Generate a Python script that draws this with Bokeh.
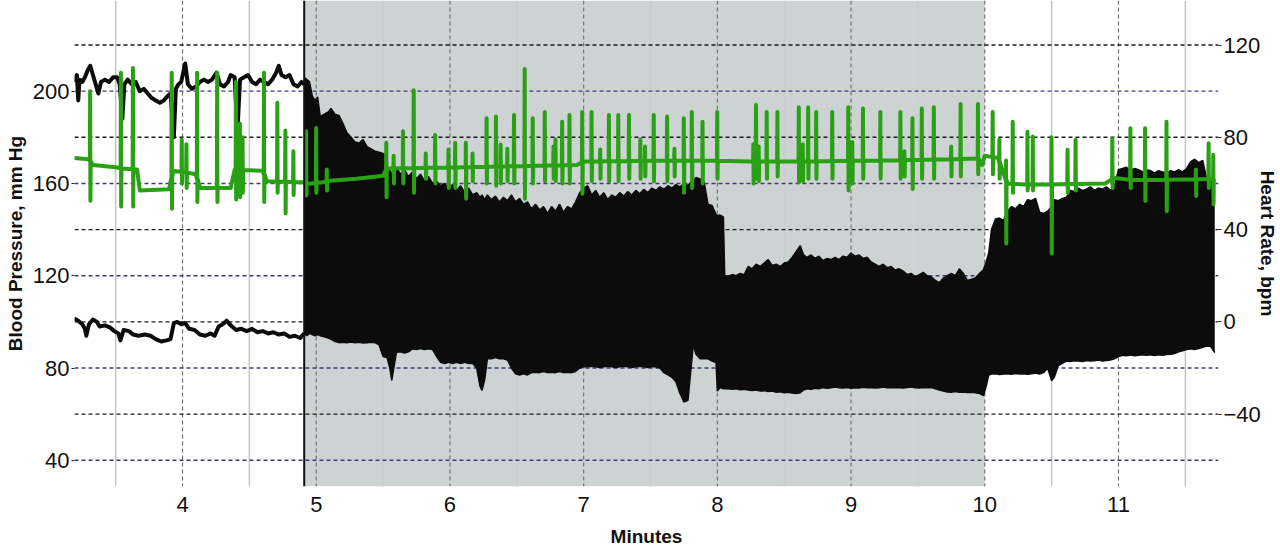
import numpy as np
from bokeh.plotting import figure
from bokeh.models import Range1d, LinearAxis, FixedTicker, Span, BoxAnnotation
from bokeh.embed import file_html
from bokeh.resources import INLINE

# ---------------- data ----------------
minute_ticks = [4, 5, 6, 7, 8, 9, 10, 11]
half_minute_lines = [3.5, 4.5, 5.5, 6.5, 7.5, 8.5, 9.5, 10.5, 11.5]
bp_ticks = [40, 80, 120, 160, 200]
hr_ticks = [-40, 0, 40, 80, 120]
shade_start = 4.91
shade_end = 10.0

# systolic / diastolic traces before the shaded period (mm Hg)
sys_t = [3.19, 3.21, 3.22, 3.23, 3.25, 3.27, 3.29, 3.31, 3.33, 3.35, 3.37, 3.39, 3.42, 3.45,
         3.48, 3.51, 3.53, 3.55, 3.565, 3.59, 3.62, 3.65, 3.68, 3.71, 3.74, 3.77, 3.80, 3.83,
         3.86, 3.89, 3.91, 3.935, 3.95, 3.97, 3.99, 4.02, 4.04, 4.07, 4.10, 4.13, 4.16, 4.19,
         4.22, 4.255, 4.28, 4.31, 4.34, 4.36, 4.39, 4.41, 4.43, 4.46, 4.49, 4.52, 4.55, 4.58,
         4.61, 4.64, 4.67, 4.70, 4.72, 4.74, 4.77, 4.80, 4.83, 4.86, 4.89, 4.91]
sys_bp = [204, 207, 196, 205, 204, 206, 209, 211, 207, 203, 199, 204, 205, 204,
          206, 206, 203, 188, 203, 205, 203, 204, 200, 201, 199, 197, 196, 195,
          196, 198, 199, 180, 201, 203, 204, 212, 203, 201, 202, 204, 205, 204,
          205, 208, 203, 202, 204, 207, 206, 182, 205, 206, 207, 204, 203, 205,
          204, 203, 205, 208, 211, 207, 206, 207, 203, 202, 204, 203]
dia_t = [3.19, 3.22, 3.25, 3.27, 3.28, 3.30, 3.33, 3.36, 3.38, 3.42, 3.46, 3.49, 3.52, 3.535,
         3.56, 3.60, 3.63, 3.67, 3.72, 3.76, 3.80, 3.84, 3.88, 3.91, 3.935, 3.96, 3.99, 4.02,
         4.05, 4.09, 4.13, 4.17, 4.21, 4.24, 4.27, 4.30, 4.33, 4.36, 4.40, 4.44, 4.48, 4.52,
         4.56, 4.60, 4.64, 4.68, 4.72, 4.76, 4.80, 4.84, 4.88, 4.91]
dia_bp = [101.5, 100.5, 99, 97, 94, 99, 101, 100, 98, 98.5, 97.5, 96, 95, 92,
          96.5, 96, 94.5, 94, 94.5, 94, 92.5, 91.5, 92, 92.5, 99.5, 100, 99, 99.5,
          97, 96.5, 94.5, 94, 95, 94, 98, 99, 100.5, 98.5, 96.5, 97, 96, 97,
          95.5, 96, 95, 95.5, 94.5, 95, 93.5, 94, 93, 95]

# pulsatile pressure envelope from the shaded period onward (mm Hg)
band_t = [4.91, 4.93, 4.95, 4.97, 4.99, 5.01, 5.03, 5.06, 5.09, 5.11, 5.14, 5.17, 5.20, 5.23,
          5.26, 5.29, 5.32, 5.35, 5.38, 5.41, 5.44, 5.47, 5.50, 5.52, 5.53, 5.55, 5.565, 5.58,
          5.60, 5.63, 5.66, 5.69, 5.72, 5.75, 5.78, 5.81, 5.84, 5.87, 5.90, 5.93, 5.96, 5.99,
          6.02, 6.05, 6.08, 6.11, 6.14, 6.17, 6.20, 6.225, 6.24, 6.26, 6.28, 6.31, 6.34, 6.37,
          6.40, 6.43, 6.46, 6.49, 6.52, 6.55, 6.58, 6.61, 6.64, 6.67, 6.70, 6.73, 6.76, 6.79,
          6.82, 6.85, 6.88, 6.91, 6.94, 6.97, 7.00, 7.03, 7.06, 7.09, 7.12, 7.15, 7.18, 7.21,
          7.24, 7.27, 7.30, 7.33, 7.36, 7.39, 7.42, 7.45, 7.48, 7.51, 7.54, 7.57, 7.60, 7.63,
          7.66, 7.69, 7.72, 7.75, 7.78, 7.80, 7.82, 7.84, 7.87, 7.90, 7.93, 7.96, 7.99, 8.00,
          8.02, 8.045, 8.055, 8.08, 8.11, 8.14, 8.17, 8.20, 8.23, 8.26, 8.29, 8.32, 8.35, 8.38,
          8.41, 8.44, 8.47, 8.50, 8.53, 8.56, 8.59, 8.62, 8.645, 8.67, 8.70, 8.73, 8.76, 8.79,
          8.82, 8.85, 8.88, 8.91, 8.94, 8.97, 9.00, 9.03, 9.06, 9.09, 9.12, 9.15, 9.18, 9.21,
          9.24, 9.27, 9.30, 9.33, 9.36, 9.39, 9.42, 9.45, 9.48, 9.51, 9.54, 9.57, 9.60, 9.63,
          9.66, 9.69, 9.72, 9.75, 9.78, 9.81, 9.84, 9.87, 9.90, 9.93, 9.96, 9.99, 10.01, 10.03,
          10.05, 10.08, 10.11, 10.14, 10.17, 10.20, 10.23, 10.26, 10.29, 10.32, 10.35, 10.38, 10.41, 10.44,
          10.47, 10.50, 10.52, 10.55, 10.58, 10.61, 10.64, 10.67, 10.70, 10.73, 10.76, 10.79, 10.82, 10.85,
          10.88, 10.91, 10.94, 10.97, 11.00, 11.03, 11.06, 11.09, 11.12, 11.15, 11.18, 11.21, 11.24, 11.27,
          11.30, 11.33, 11.36, 11.39, 11.42, 11.45, 11.48, 11.51, 11.54, 11.57, 11.60, 11.63, 11.66, 11.69,
          11.72]
band_sys = [206, 205, 204, 198, 196, 197.5, 189, 190, 191, 192.5, 190, 189.5, 186, 182,
            180, 178, 177.5, 179, 176, 175, 174, 173.5, 173, 172, 165, 166, 164, 165,
            167, 164, 166, 163, 165, 162, 164, 161, 163, 160, 161, 159, 160, 158,
            159.5, 157, 159, 156, 158, 155, 156, 154, 155, 153, 155, 153, 154.5, 152,
            154, 152.5, 155, 152, 153.5, 151, 152, 149, 151, 148.5, 150, 147, 150, 148,
            151, 147.5, 150, 149, 152, 156, 158, 159, 155, 157, 154, 156, 153, 155,
            154, 156, 154.5, 156.5, 155, 157, 155.5, 157.5, 156, 158, 157, 158.5, 157.5, 159,
            158, 159.5, 158.5, 160, 159, 160.5, 161, 162.6, 162, 161, 151, 150.5, 146.5, 146,
            146.3, 145.5, 120, 119.7, 120.5, 120, 121, 120.4, 124, 123, 125, 124, 125.5, 127,
            124.5, 125, 124, 125.5, 126, 128, 130.5, 133, 129, 128, 129, 127.5, 128.5, 126.5,
            127.5, 127, 128, 127, 128.5, 128, 129.8, 128.5, 129, 127.5, 128, 126, 125, 124,
            125, 123.5, 124, 122.5, 123, 122, 120.5, 121, 119.5, 120.5, 121.5, 120, 119.5, 118,
            117, 119, 120, 121, 120, 123, 121, 118, 118.5, 119, 121, 122.6, 126, 130,
            140, 144.6, 145, 144, 148, 150, 149, 151, 150, 153, 152.5, 153.5, 147.5, 147,
            148, 150, 153, 152.5, 153.5, 154, 157, 156.5, 158, 157, 157.5, 158.5, 157, 158,
            157.5, 158.5, 157, 159, 166, 166.5, 167, 165.5, 166.5, 166, 165, 166, 165.5, 164.5,
            165.5, 165, 164.5, 165.5, 165, 166, 165, 166.5, 169.5, 170.5, 169, 170, 162, 161.5,
            161.7]
band_dia = [95, 94, 95, 94.5, 94, 94.5, 94, 93.5, 93, 92.5, 91.5, 91, 91.2, 91,
            91.3, 91, 91.2, 90.8, 91, 91.2, 91, 90, 85, 84.7, 84.5, 80, 74.6, 80,
            86.8, 87, 86.5, 87, 88.3, 88, 88.5, 88, 88.3, 88, 85, 82.5, 82, 82.5,
            82, 82.5, 82, 82.5, 82, 82, 80, 72, 70.3, 75, 84, 84, 84.5, 84,
            84, 83.5, 80, 77.5, 77, 77.5, 77, 78, 78.2, 78, 78.5, 78, 78.2, 78,
            78.5, 78, 78.2, 78, 78.5, 80, 80.5, 80.5, 80.8, 80.5, 80.2, 80.5, 80.8, 80.5,
            80.2, 80.5, 80.8, 80.5, 80.2, 80.5, 80.8, 80.5, 80.2, 80.5, 80.5, 80, 78, 77,
            76, 74, 69, 65.3, 66, 78, 90, 86, 84, 84, 84, 83, 82.4, 70,
            71.5, 71, 71, 71, 70.8, 71, 70.6, 70.8, 70.5, 70.3, 70.5, 70, 70.2, 69.8,
            70, 69.5, 69.7, 69.3, 69.5, 69.2, 69, 69.3, 70.5, 71, 70.8, 71.2, 71, 71.5,
            71.2, 71.5, 71.8, 71.5, 71.3, 71.6, 71.2, 71.5, 71.3, 71.7, 71.4, 71.6, 71.3, 71.5,
            71.8, 71.5, 71.6, 71.4, 71.5, 71.3, 71.6, 71.8, 71.5, 71.3, 71.6, 71.4, 71.5, 71,
            70.5, 70, 69.6, 69.5, 69.8, 69.5, 69.6, 69.4, 69.5, 69.3, 69, 68, 72, 77,
            77.4, 77.5, 77.2, 77.4, 77.5, 77.3, 77.6, 77.4, 77.5, 77.3, 77.5, 77.8, 77.4, 78,
            80, 74.5, 76, 81, 82, 83, 82.8, 83.2, 83, 82.8, 83.3, 83, 83.2, 83.5,
            83, 83.3, 83.5, 84, 85, 85.5, 85.3, 85.6, 85.3, 85.5, 85.8, 85.5, 85.7, 85.4,
            85.8, 85.5, 85.9, 86, 86.3, 87, 87.5, 88, 88.3, 88, 88.5, 89, 89.5, 89.3,
            86.7]

# heart rate: slow baseline (bpm) and beat spikes (time, top, bottom)
hr_base_t = [3.19, 3.30, 3.33, 3.50, 3.55, 3.66, 3.68, 3.90, 3.93, 4.05, 4.10, 4.13, 4.36, 4.39,
             4.60, 4.63, 4.90, 4.93, 5.05, 5.10, 5.30, 5.50, 5.53, 6.10, 6.50, 6.95, 7.00, 7.50,
             8.00, 8.25, 8.60, 9.00, 9.50, 9.95, 9.98, 10.00, 10.10, 10.13, 10.17, 10.30, 10.50, 10.90,
             10.97, 11.10, 11.50, 11.72]
hr_base = [71, 70.5, 68, 67, 66.5, 66, 57, 57.5, 65.5, 64.5, 64, 58, 58, 66,
           65.5, 61, 60.5, 59.8, 60.5, 61.2, 62, 63.3, 66.5, 67, 67.5, 68, 69.5, 69.8,
           69.8, 69.5, 69.5, 69.8, 70.2, 70.8, 68, 72, 71, 66, 60, 59.5, 59.6, 60,
           62.4, 61.5, 61.7, 62]
spike_t = [3.31, 3.54, 3.63, 3.92, 3.995, 4.03, 4.11, 4.26, 4.40, 4.43, 4.45, 4.61, 4.71, 4.77,
           4.83, 4.925, 5.0, 5.08, 5.525, 5.58, 5.65, 5.73, 5.82, 5.89, 5.99, 6.04, 6.12, 6.17,
           6.275, 6.345, 6.38, 6.43, 6.48, 6.56, 6.62, 6.71, 6.775, 6.79, 6.84, 6.895, 6.99, 7.06,
           7.125, 7.19, 7.26, 7.34, 7.425, 7.46, 7.525, 7.625, 7.68, 7.75, 7.81, 7.89, 8.0, 8.27,
           8.29, 8.31, 8.37, 8.45, 8.61, 8.64, 8.68, 8.74, 8.86, 8.98, 9.01, 9.09, 9.22, 9.37,
           9.40, 9.46, 9.53, 9.62, 9.75, 9.82, 9.95, 10.06, 10.11, 10.16, 10.21, 10.32, 10.36, 10.5,
           10.62, 10.68, 10.955, 11.09, 11.2, 11.36, 11.58, 11.675, 11.71]
spike_hi = [100, 108, 110, 108, 79, 77, 108, 108, 104, 86, 80, 108, 95, 83,
            74, 82.6, 84, 66, 77.6, 72, 82.6, 100.4, 73, 81, 74.7, 77.6, 77.6, 73,
            88.3, 89, 76.9, 75, 89.7, 109.6, 88.3, 91, 76, 79, 86.8, 89.7, 91, 91,
            74.7, 89.7, 89.7, 89.7, 79, 76, 89.7, 89, 75, 88.3, 91, 86.8, 91, 77,
            94, 76, 91, 91, 93, 77, 93, 91, 91, 93, 78, 92.5, 91, 91,
            74, 88.3, 92.5, 93, 76, 94.4, 94.4, 91, 78.9, 70, 86.7, 82.4, 80.3, 80,
            74.6, 78.9, 79.6, 83.9, 83.9, 86.7, 66, 77.4, 72.4]
spike_lo = [52.5, 50, 50, 49, 60, 58, 52, 52, 53, 54, 56, 52, 56, 47,
            55, 54.8, 56, 57, 54, 60, 60, 56, 62, 60, 58, 58, 53.4, 61,
            60, 59, 60, 61, 60, 53.4, 60, 61, 62, 61, 60, 60, 55.5, 61,
            62, 61, 61, 62, 62, 63, 61, 61, 63, 56, 58, 60, 62, 60,
            62, 61, 62, 63, 60.5, 61, 62, 62, 62, 57, 60, 62, 62, 62,
            63, 57.6, 62, 62, 63, 63, 64, 64, 62, 34, 56, 57, 57, 29.6,
            56, 57, 58, 58, 52.4, 48, 54.6, 58, 51]

# ---------------- layout constants ----------------
X0, X1 = 3.192, 11.748
Y0, Y1 = 28.65, 239.3
HR_OFFSET = 100.0   # right axis (bpm) = left axis (mm Hg) - 100
FONT = "Liberation Sans"
INK = "#111111"

# build heart-rate polyline (baseline with inserted beat spikes)
base_at = np.interp(spike_t, hr_base_t, hr_base)
pts = list(zip(hr_base_t, hr_base))
for t, hi, lo, b in zip(spike_t, spike_hi, spike_lo, base_at):
    pts += [(t - 0.003, b), (t - 0.001, hi), (t + 0.001, lo), (t + 0.003, b)]
pts.sort(key=lambda q: q[0])
hr_x = [q[0] for q in pts]
hr_y = [q[1] for q in pts]

p = figure(width=1280, height=549, x_range=Range1d(X0, X1), y_range=Range1d(Y0, Y1),
           output_backend="svg", toolbar_location=None, title=None,
           min_border_left=74, min_border_right=62, min_border_top=0, min_border_bottom=61)
p.extra_y_ranges = {"hr": Range1d(Y0 - HR_OFFSET, Y1 - HR_OFFSET)}
p.grid.visible = False
p.outline_line_color = None
p.background_fill_color = "white"
p.border_fill_color = "white"

right_axis = LinearAxis(y_range_name="hr", ticker=FixedTicker(ticks=hr_ticks))
p.add_layout(right_axis, "right")
p.yaxis[0].ticker = FixedTicker(ticks=bp_ticks)
p.xaxis[0].ticker = FixedTicker(ticks=minute_ticks)

for ax in list(p.yaxis) + list(p.xaxis):
    ax.axis_line_color = None
    ax.minor_tick_line_color = None
    ax.minor_tick_out = 0
    ax.minor_tick_in = 0
    ax.major_tick_in = 0
    ax.major_label_text_font = FONT
    ax.major_label_text_font_size = "22px"
    ax.major_label_text_color = INK
    ax.axis_label_text_font = FONT
    ax.axis_label_text_font_style = "bold"
    ax.axis_label_text_font_size = "19px"
    ax.axis_label_text_color = INK
for ax in p.yaxis:
    ax.major_tick_out = 3
    ax.major_tick_line_color = "#222222"
    ax.major_label_standoff = 2

p.yaxis[0].axis_label = "Blood Pressure, mm Hg"
p.yaxis[0].axis_label_standoff = 4
right_axis.axis_label = "Heart Rate, bpm"
right_axis.axis_label_standoff = -7

xa = p.xaxis[0]
xa.major_tick_line_color = None
xa.major_tick_out = 0
xa.major_label_standoff = 10
xa.axis_label = "Minutes"
xa.axis_label_standoff = 11

# background structure
for v in half_minute_lines:
    p.add_layout(Span(location=v, dimension="height", line_color="#c3c7c7",
                      line_width=1.5, level="underlay"))
p.add_layout(BoxAnnotation(left=shade_start, right=shade_end, fill_color="#c9d0d0",
                           fill_alpha=0.93, line_color=None, level="underlay"))
for v in minute_ticks:
    p.add_layout(Span(location=v, dimension="height", line_color="#737373",
                      line_dash="4 3", line_width=1.2, level="underlay"))
for y in bp_ticks:
    p.add_layout(Span(location=y, dimension="width", line_color="#47377a",
                      line_dash="4 3", line_width=1.4, level="underlay"))
for y in hr_ticks:
    p.add_layout(Span(location=y + HR_OFFSET, dimension="width", line_color="#1a1a1a",
                      line_dash="4 3", line_width=1.4, level="underlay"))

# blood pressure
BLACK = "#0c0c0c"
p.varea(x=band_t, y1=band_dia, y2=band_sys, fill_color=BLACK)
p.line(band_t, band_sys, line_color=BLACK, line_width=1.5)
p.line(band_t, band_dia, line_color=BLACK, line_width=1.5)
p.line(sys_t, sys_bp, line_color=BLACK, line_width=4, line_join="round")
p.line(dia_t, dia_bp, line_color=BLACK, line_width=4, line_join="round")
p.add_layout(Span(location=shade_start, dimension="height", line_color="#111111",
                  line_width=2, level="glyph"))

# heart rate
p.line(hr_x, hr_y, y_range_name="hr", line_color="#2aa015", line_width=4,
       line_join="round")

open("out.html", "w").write(file_html(p, INLINE))
